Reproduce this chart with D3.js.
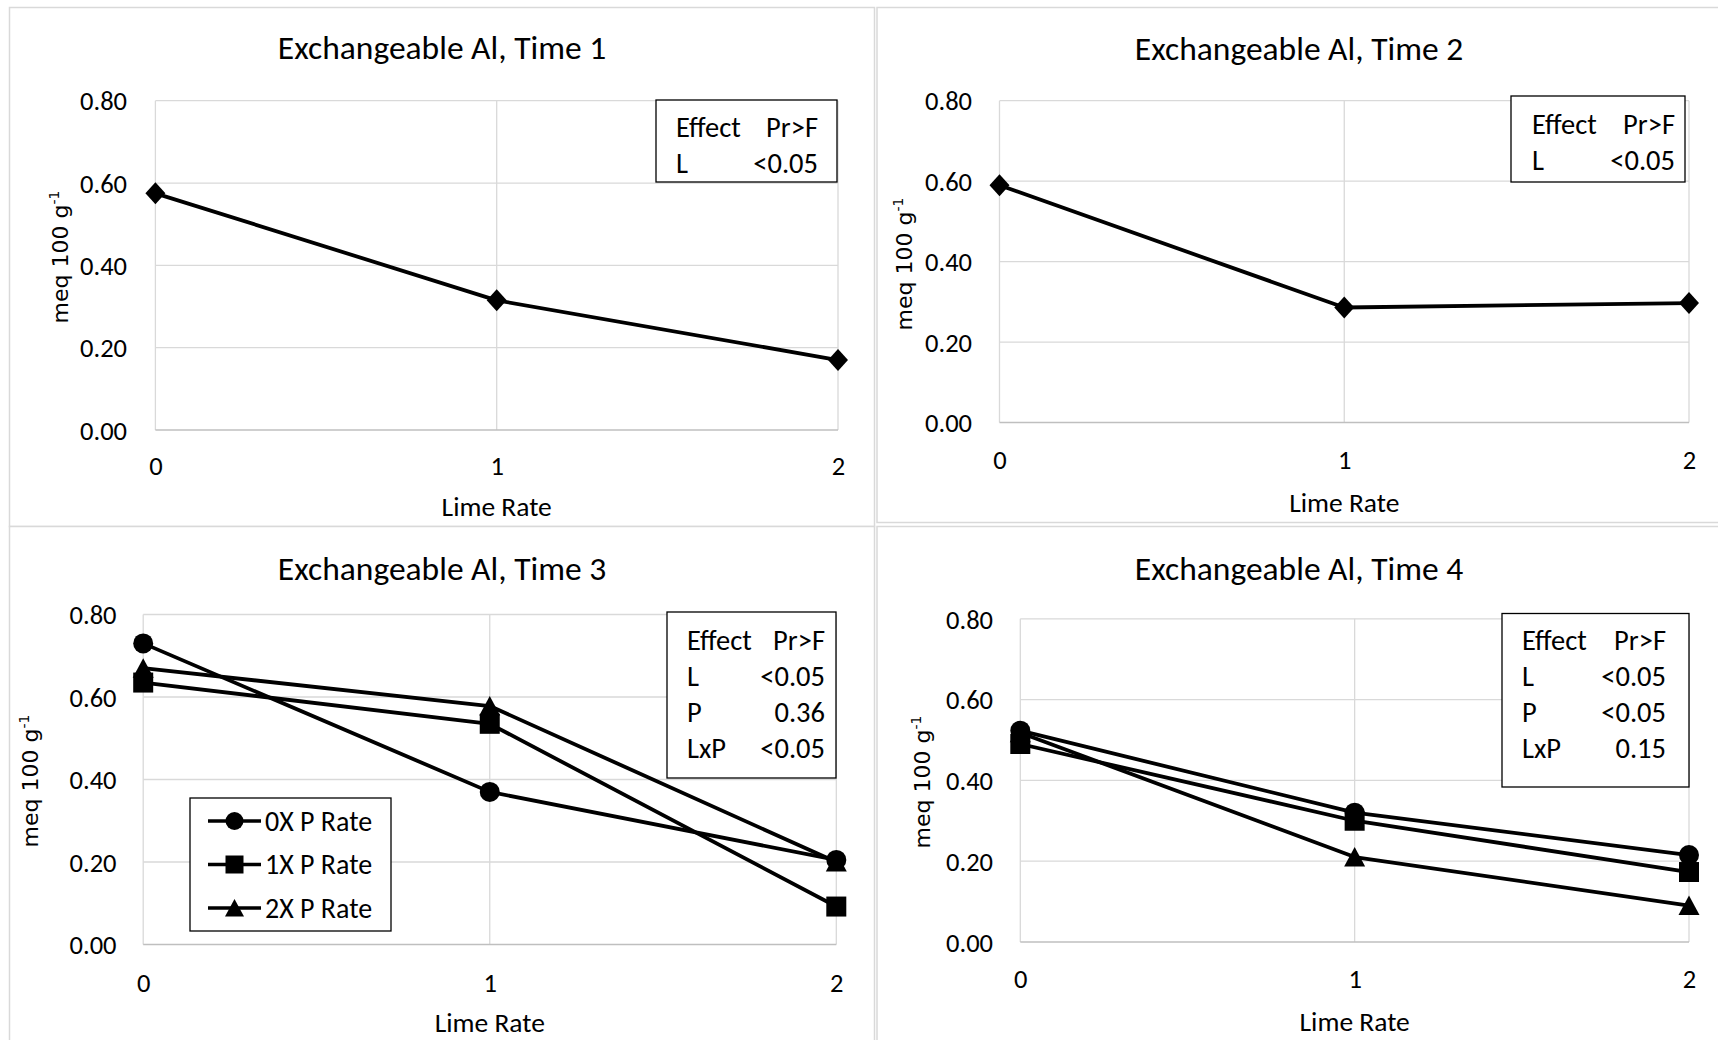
<!DOCTYPE html>
<html>
<head>
<meta charset="utf-8">
<script src="https://cdn.jsdelivr.net/npm/d3@7"></script>
<style>
  body { margin: 0; background: #fff; }
  svg { display: block; }
  text { font-family: Carlito, Calibri, Lato, sans-serif; fill: #000; }
  .ytitle { font-family: "DejaVu Sans", Verdana, sans-serif; }
</style>
</head>
<body>
<svg id="chart" width="1718" height="1040"></svg>
<script>
// data
var limeRates = [0, 1, 2];
var yTicks = [0, 0.2, 0.4, 0.6, 0.8];
var time1Al = [0.575, 0.315, 0.17];
var time2Al = [0.59, 0.286, 0.297];
var time3Al0X = [0.73, 0.37, 0.205];
var time3Al1X = [0.635, 0.535, 0.092];
var time3Al2X = [0.67, 0.578, 0.2];
var time4Al0X = [0.523, 0.32, 0.215];
var time4Al1X = [0.49, 0.30, 0.173];
var time4Al2X = [0.518, 0.21, 0.09];
var pRateNames = ['0X P Rate', '1X P Rate', '2X P Rate'];
var effects1 = [['L', '<0.05']];
var effects2 = [['L', '<0.05']];
var effects3 = [['L', '<0.05'], ['P', '0.36'], ['LxP', '<0.05']];
var effects4 = [['L', '<0.05'], ['P', '<0.05'], ['LxP', '0.15']];
var titles = ['Exchangeable Al, Time 1', 'Exchangeable Al, Time 2',
              'Exchangeable Al, Time 3', 'Exchangeable Al, Time 4'];

// marker paths
var shapes = {
  diamond: 'M0,-11L10,0L0,11L-10,0Z',
  circle: d3.symbol(d3.symbolCircle, Math.PI * 100)(),
  square: 'M-10,-10H10V10H-10Z',
  triangle: 'M0,-10L10.5,9.5H-10.5Z'
};
var legendShapes = {
  circle: d3.symbol(d3.symbolCircle, Math.PI * 81)(),
  square: 'M-9,-9H9V9H-9Z',
  triangle: 'M0,-9L9.5,8.5H-9.5Z'
};

var panels = [
  { title: titles[0], frame: [9.5, 7.5, 865, 519],
    plot: { l: 155.4, r: 838, t: 100.7, b: 430 },
    series: [{ values: time1Al, shape: 'diamond' }],
    effects: effects1, box: { x: 656, y: 100, w: 181, h: 82 }, effX: 676, valX: 818, effY: 127,
    titleY: 59, yTitle: [60, 257], tickX: 127, tickY: 466, xTitleY: 506 },
  { title: titles[1], frame: [877, 7.5, 850, 515],
    plot: { l: 999.5, r: 1689, t: 100.7, b: 422.6 },
    series: [{ values: time2Al, shape: 'diamond' }],
    effects: effects2, box: { x: 1511, y: 96, w: 174, h: 86 }, effX: 1532, valX: 1675, effY: 124,
    titleY: 59.5, yTitle: [904, 264], tickX: 972, tickY: 460, xTitleY: 502 },
  { title: titles[2], frame: [9.5, 526.5, 865, 530],
    plot: { l: 143.2, r: 836.3, t: 614.5, b: 944.5 },
    series: [{ values: time3Al0X, shape: 'circle' },
             { values: time3Al1X, shape: 'square' },
             { values: time3Al2X, shape: 'triangle' }],
    effects: effects3, box: { x: 667, y: 612, w: 169, h: 166 }, effX: 687, valX: 825, effY: 640,
    legend: { x: 190, y: 798, w: 201, h: 133 },
    titleY: 580, yTitle: [30, 781], tickX: 116.5, tickY: 983, xTitleY: 1022 },
  { title: titles[3], frame: [877, 526.5, 850, 530],
    plot: { l: 1020.3, r: 1689, t: 618.8, b: 941.9 },
    series: [{ values: time4Al0X, shape: 'circle' },
             { values: time4Al1X, shape: 'square' },
             { values: time4Al2X, shape: 'triangle' }],
    effects: effects4, box: { x: 1502, y: 613.5, w: 187, h: 173.5 }, effX: 1522, valX: 1666, effY: 640,
    titleY: 580, yTitle: [922, 782], tickX: 993, tickY: 979, xTitleY: 1021 }
];

var svg = d3.select('#chart');

panels.forEach(function(p) {
  var g = svg.append('g');

  // chart frame
  g.append('rect')
    .attr('x', p.frame[0]).attr('y', p.frame[1])
    .attr('width', p.frame[2]).attr('height', p.frame[3])
    .attr('fill', '#fff').attr('stroke', '#d9d9d9').attr('stroke-width', 1.5);

  var x = d3.scaleLinear().domain([0, 2]).range([p.plot.l, p.plot.r]);
  var y = d3.scaleLinear().domain([0, 0.8]).range([p.plot.b, p.plot.t]);

  // gridlines
  g.selectAll('.hgrid').data(yTicks.slice(1)).enter().append('line')
    .attr('x1', p.plot.l).attr('x2', p.plot.r)
    .attr('y1', d => y(d)).attr('y2', d => y(d))
    .attr('stroke', '#d9d9d9').attr('stroke-width', 1.3);
  g.selectAll('.vgrid').data(limeRates).enter().append('line')
    .attr('x1', d => x(d)).attr('x2', d => x(d))
    .attr('y1', p.plot.t).attr('y2', p.plot.b)
    .attr('stroke', '#d9d9d9').attr('stroke-width', 1.3);
  g.append('line')
    .attr('x1', p.plot.l).attr('x2', p.plot.r)
    .attr('y1', y(0)).attr('y2', y(0))
    .attr('stroke', '#bfbfbf').attr('stroke-width', 1.5);

  // y tick labels
  var yAxis = g.append('g')
    .attr('transform', 'translate(' + p.tickX + ',0)')
    .call(d3.axisLeft(y).tickValues(yTicks).tickFormat(d3.format('.2f')).tickSize(0).tickPadding(0));
  yAxis.select('.domain').remove();
  yAxis.selectAll('text')
    .attr('font-family', null).attr('font-size', null)
    .style('font-size', '26.5px').attr('dy', '0.35em');

  // x tick labels
  var xAxis = g.append('g')
    .attr('transform', 'translate(0,' + p.tickY + ')')
    .call(d3.axisBottom(x).tickValues(limeRates).tickFormat(d3.format('d')).tickSize(0).tickPadding(0));
  xAxis.select('.domain').remove();
  xAxis.selectAll('text')
    .attr('font-family', null).attr('font-size', null)
    .style('font-size', '26.5px').attr('dy', '0.35em');

  // titles
  g.append('text')
    .attr('x', p.frame[0] + p.frame[2] / 2 - (p.frame[0] > 800 ? 3 : 0)).attr('y', p.titleY)
    .attr('text-anchor', 'middle').style('font-size', '33.5px')
    .text(p.title);
  g.append('text')
    .attr('x', (p.plot.l + p.plot.r) / 2).attr('y', p.xTitleY)
    .attr('text-anchor', 'middle').attr('dy', '0.35em').style('font-size', '27.5px')
    .text('Lime Rate');
  var yt = g.append('text')
    .attr('class', 'ytitle')
    .attr('transform', 'translate(' + p.yTitle[0] + ',' + p.yTitle[1] + ') rotate(-90)')
    .attr('text-anchor', 'middle').attr('dy', '0.35em').style('font-size', '22px');
  yt.append('tspan').text('meq 100 g');
  yt.append('tspan').attr('dy', '-0.6em').style('font-size', '14px').text('-1');

  // lines and markers
  var line = d3.line().x((d, i) => x(limeRates[i])).y(d => y(d));
  p.series.forEach(function(s) {
    g.append('path')
      .datum(s.values)
      .attr('d', line)
      .attr('fill', 'none').attr('stroke', '#000').attr('stroke-width', 3.8)
      .attr('stroke-linejoin', 'round');
  });
  p.series.forEach(function(s) {
    g.selectAll('.m').data(s.values).enter().append('path')
      .attr('transform', (d, i) => 'translate(' + x(limeRates[i]) + ',' + y(d) + ')')
      .attr('d', shapes[s.shape]).attr('fill', '#000');
  });

  // effect table
  g.append('rect')
    .attr('x', p.box.x).attr('y', p.box.y).attr('width', p.box.w).attr('height', p.box.h)
    .attr('fill', '#fff').attr('stroke', '#000').attr('stroke-width', 1.3);
  var rows = [['Effect', 'Pr>F']].concat(p.effects);
  var rowStep = 36;
  rows.forEach(function(r, i) {
    var cy = p.effY + i * rowStep;
    g.append('text').attr('x', p.effX).attr('y', cy).attr('dy', '0.35em')
      .style('font-size', '28.5px').text(r[0]);
    g.append('text').attr('x', p.valX).attr('y', cy).attr('dy', '0.35em')
      .attr('text-anchor', 'end').style('font-size', '28.5px').text(r[1]);
  });

  // legend
  if (p.legend) {
    g.append('rect')
      .attr('x', p.legend.x).attr('y', p.legend.y).attr('width', p.legend.w).attr('height', p.legend.h)
      .attr('fill', '#fff').attr('stroke', '#000').attr('stroke-width', 1.3);
    p.series.forEach(function(s, i) {
      var cy = p.legend.y + 23 + i * 43.5;
      var lx = p.legend.x + 18;
      g.append('line').attr('x1', lx).attr('x2', lx + 53)
        .attr('y1', cy).attr('y2', cy).attr('stroke', '#000').attr('stroke-width', 3.5);
      g.append('path').attr('transform', 'translate(' + (lx + 26.5) + ',' + cy + ')')
        .attr('d', legendShapes[s.shape]).attr('fill', '#000');
      g.append('text').attr('x', lx + 57).attr('y', cy).attr('dy', '0.35em')
        .style('font-size', '28px').text(pRateNames[i]);
    });
  }
});
</script>
</body>
</html>
